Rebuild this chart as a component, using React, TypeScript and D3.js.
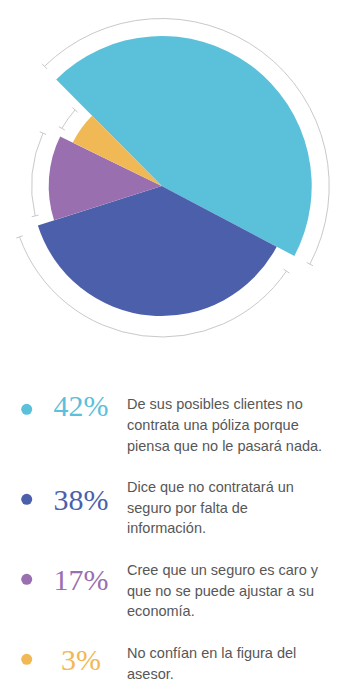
import React from "react";
import * as d3 from "d3";

const percentages = [42, 38, 17, 3];
// angular extent of each wedge as drawn in the picture (degrees)
const sliceSpans = [162.5, 134.5, 43.7, 19.3];
const descriptions = [
  ["De sus posibles clientes no", "contrata una póliza porque", "piensa que no le pasará nada."],
  ["Dice que no contratará un", "seguro por falta de", "información."],
  ["Cree que un seguro es caro y", "que no se puede ajustar a su", "economía."],
  ["No confían en la figura del", "asesor."],
];
const colors = ["#5bc0da", "#4c5fab", "#9a6fb0", "#f1b955"];

export default function App() {
  const W = 350;
  const H = 700;
  const cx = 161.7;
  const cy = 186;
  const radii = [150, 130, 113, 99];
  const guideR = [167.5, 151, 130, 115.3];
  const guidePad = [
    [0.3, 0],
    [6.5, 2],
    [4.4, 2],
    [4, 4],
  ];
  const deg = Math.PI / 180;
  const start = -44.7 * deg;
  const pie = d3
    .pie<number>()
    .sort(null)
    .value((d) => d)
    .startAngle(start)
    .endAngle(start + 2 * Math.PI);
  const arcs = pie(sliceSpans);

  const guides = arcs.map((a, i) => {
    const a0 = a.startAngle + guidePad[i][0] * deg;
    const a1 = a.endAngle - guidePad[i][1] * deg;
    const R = guideR[i];
    const p = d3.path();
    p.arc(0, 0, R, a0 - Math.PI / 2, a1 - Math.PI / 2, false);
    const ticks = [a0, a1].map((ang) => {
      const s = Math.sin(ang);
      const c = -Math.cos(ang);
      return {
        x1: (R - 3.5) * s,
        y1: (R - 3.5) * c,
        x2: (R + 3.5) * s,
        y2: (R + 3.5) * c,
      };
    });
    return { d: p.toString(), ticks };
  });

  const dotY = [409.3, 499.3, 579.3, 659.3];
  const pctBase = [416, 509.5, 590, 670];
  const descBase = [409.3, 492, 575, 658];
  const lineH = 20.6;

  return (
    <svg
      width={W}
      height={H}
      style={{ position: "absolute", left: 0, top: 0, background: "#fff" }}
    >
      <g transform={`translate(${cx},${cy})`}>
        {arcs.map((a, i) => (
          <path
            key={i}
            d={d3.arc<any>().innerRadius(0).outerRadius(radii[i])(a) || ""}
            fill={colors[i]}
          />
        ))}
        {guides.map((g, i) => (
          <g key={i} stroke="#c9c9c9" strokeWidth={1} fill="none">
            <path d={g.d} />
            {g.ticks.map((t, j) => (
              <line key={j} x1={t.x1} y1={t.y1} x2={t.x2} y2={t.y2} />
            ))}
          </g>
        ))}
      </g>
      {percentages.map((v, i) => (
        <g key={i}>
          <circle cx={26.7} cy={dotY[i]} r={5.5} fill={colors[i]} />
          <text
            x={81}
            y={pctBase[i]}
            textAnchor="middle"
            fill={colors[i]}
            style={{
              fontFamily: "'Liberation Serif', 'DejaVu Serif', serif",
              fontSize: 30,
              fontVariantNumeric: "oldstyle-nums",
            }}
          >
            {v}%
          </text>
          {descriptions[i].map((line, j) => (
            <text
              key={j}
              x={127}
              y={descBase[i] + j * lineH}
              fill="#575757"
              style={{ fontFamily: "'Liberation Sans', Arial, sans-serif", fontSize: 14.5 }}
            >
              {line}
            </text>
          ))}
        </g>
      ))}
    </svg>
  );
}
